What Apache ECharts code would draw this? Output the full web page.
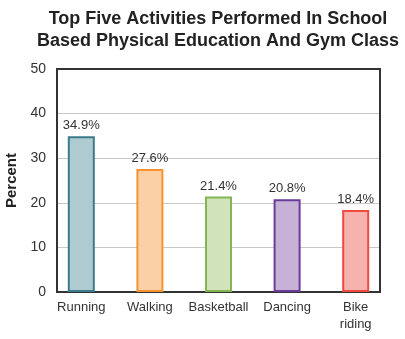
<!DOCTYPE html>
<html><head><meta charset="utf-8">
<script src="https://cdn.jsdelivr.net/npm/echarts@6/dist/echarts.min.js"></script>
<style>html,body{margin:0;padding:0;background:#fff}#c{width:405px;height:339px}</style>
</head><body><div id="c"></div>
<script>
const categories = ['Running', 'Walking', 'Basketball', 'Dancing', 'Bike\nriding'];
const values = [34.9, 27.6, 21.4, 20.8, 18.4];
const yTicks = [0, 10, 20, 30, 40, 50];

const fills = ['#aecbd1', '#fbd0a7', '#d0e3bb', '#c7b1d7', '#f6b2ae'];
const borders = ['#3b7c8c', '#f7932f', '#83b552', '#6b3b99', '#f04a3f'];

const chart = echarts.init(document.getElementById('c'), null, {renderer: 'canvas'});
const font = '"Liberation Sans", Arial, sans-serif';
chart.setOption({
  animation: false,
  textStyle: {fontFamily: font},
  title: {
    text: 'Top Five Activities Performed In School\nBased Physical Education And Gym Class',
    left: 213, top: 3, textAlign: 'center',
    textStyle: {fontSize: 18, fontWeight: 'bold', color: '#222', lineHeight: 22, fontFamily: font}
  },
  grid: [
    {left: 57, right: 25, top: 69, bottom: 47, show: true, borderColor: '#333', borderWidth: 2, backgroundColor: 'transparent', z: 5, outerBoundsMode: 'none', containLabel: false},
    {left: 47, right: 15, top: 69, bottom: 47, outerBoundsMode: 'none', containLabel: false}
  ],
  xAxis: [
    {gridIndex: 0, type: 'value', min: 0, max: 1, show: false},
    {gridIndex: 1, type: 'category', data: categories,
     axisLine: {show: false}, axisTick: {show: false},
     axisLabel: {interval: 0, fontSize: 13, color: '#333', margin: 7, lineHeight: 17, fontFamily: font}}
  ],
  yAxis: [
    {gridIndex: 0, type: 'value', min: yTicks[0], max: yTicks[yTicks.length - 1], interval: 10,
     axisLine: {show: false}, axisTick: {show: false},
     axisLabel: {fontSize: 14, color: '#333', margin: 11, fontFamily: font},
     splitLine: {lineStyle: {color: '#c8c8c8', width: 1}},
     name: 'Percent', nameLocation: 'middle', nameGap: 37,
     nameTextStyle: {fontSize: 15, fontWeight: 'bold', color: '#222', fontFamily: font}},
    {gridIndex: 1, type: 'value', min: 0, max: 50, show: false}
  ],
  series: [{
    type: 'bar', xAxisIndex: 1, yAxisIndex: 1, barWidth: 27, z: 10,
    data: values.map((v, i) => ({value: v, itemStyle: {color: fills[i], borderColor: borders[i], borderWidth: 2}})),
    label: {show: true, position: 'top', distance: 4, formatter: p => p.value + '%', fontSize: 13, color: '#333', fontFamily: font}
  }]
});
</script></body></html>
